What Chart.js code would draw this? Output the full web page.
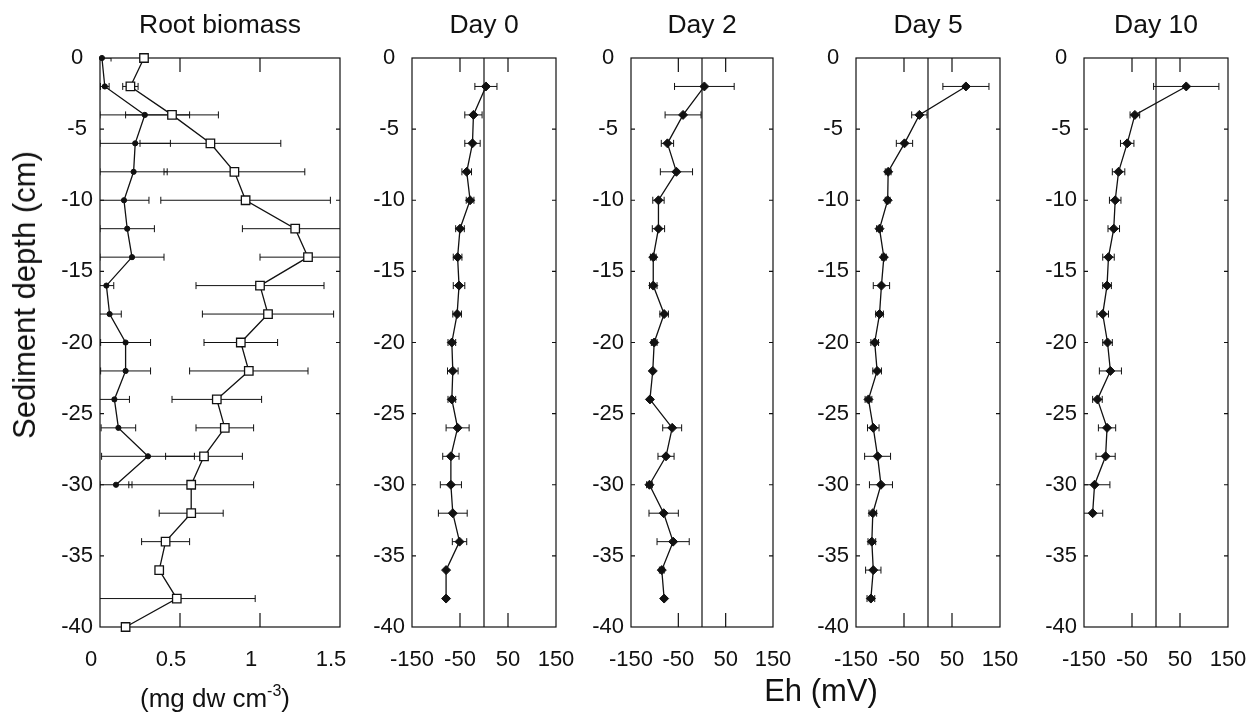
<!DOCTYPE html>
<html>
<head>
<meta charset="utf-8">
<script src="https://cdn.jsdelivr.net/npm/chart.js@4.4.1/dist/chart.umd.min.js"></script>
<style>
  body { margin: 0; background: #fff; }
  #wrap { position: relative; width: 1254px; height: 715px; overflow: hidden;
          font-family: "Liberation Sans", Arial, Helvetica, sans-serif; color: #111; }
  canvas { position: absolute; top: 0; }
  .lbl { position: absolute; white-space: nowrap; transform: translate(-50%, -50%); font-size: 26px; }
  .lbl sup { font-size: 16px; vertical-align: 11px; line-height: 0; }
</style>
</head>
<body>
<div id="wrap">
  <canvas id="bio" width="384" height="715" style="left:0px"></canvas>
  <canvas id="day0" width="255" height="715" style="left:345px"></canvas>
  <canvas id="day2" width="253" height="715" style="left:564px"></canvas>
  <canvas id="day5" width="255" height="715" style="left:789px"></canvas>
  <canvas id="day10" width="255" height="715" style="left:1017px"></canvas>
  <div class="lbl" style="left:25px; top:295px; font-size:31px; transform:translate(-50%,-50%) rotate(-90deg)">Sediment depth (cm)</div>
  <div class="lbl" style="left:215px; top:698px">(mg dw cm<sup>-3</sup>)</div>
  <div class="lbl" style="left:821px; top:691px; font-size:31px">Eh (mV)</div>
</div>
<script>
var depthTicks = [0, -5, -10, -15, -20, -25, -30, -35, -40];
var bioTicks = [0, 0.5, 1, 1.5];
var ehTicks = [-150, -50, 50, 150];

// root biomass, open squares and filled dots
var bioDepth = [0, -2, -4, -6, -8, -10, -12, -14, -16, -18, -20, -22, -24, -26, -28, -30, -32, -34, -36, -38, -40];
var bioOpen = [0.275, 0.19, 0.45, 0.69, 0.84, 0.91, 1.22, 1.30, 1.00, 1.05, 0.88, 0.93, 0.73, 0.78, 0.65, 0.57, 0.57, 0.41, 0.37, 0.48, 0.16];
var bioOpenErr = [0, 0.048, 0.29, 0.44, 0.44, 0.53, 0.33, 0.30, 0.40, 0.41, 0.23, 0.37, 0.28, 0.18, 0.24, 0.39, 0.20, 0.15, 0, 0.49, 0];
var bioDotDepth = [0, -2, -4, -6, -8, -10, -12, -14, -16, -18, -20, -22, -24, -26, -28, -30];
var bioDot = [0.012, 0.03, 0.28, 0.22, 0.21, 0.15, 0.17, 0.20, 0.04, 0.06, 0.16, 0.16, 0.09, 0.115, 0.30, 0.10];
var bioDotErr = [0.057, 0.027, 0.28, 0.22, 0.21, 0.156, 0.17, 0.20, 0.046, 0.073, 0.156, 0.156, 0.094, 0.108, 0.29, 0.10];

// Eh profiles
var ehDepth = [-2, -4, -6, -8, -10, -12, -14, -16, -18, -20, -22, -24, -26, -28, -30, -32, -34, -36, -38];
var ehDepth10 = [-2, -4, -6, -8, -10, -12, -14, -16, -18, -20, -22, -24, -26, -28, -30, -32];
var eh0 = [4, -22, -24, -36, -29, -50, -55, -52, -56, -67, -65, -67, -55, -69, -69, -65, -51, -79, -79];
var eh0Err = [23, 18, 16, 10, 8, 9, 9, 12, 9, 8, 11, 8, 24, 17, 22, 30, 15, 0, 0];
var eh2 = [5, -40, -73, -54, -92, -92, -103, -103, -80, -101, -104, -110, -63, -76, -111, -81, -61, -85, -80];
var eh2Err = [63, 38, 13, 34, 12, 13, 6, 8, 9, 6, 0, 0, 20, 17, 6, 31, 34, 5, 0];
var eh5 = [79, -18, -49, -83, -84, -101, -92, -97, -101, -111, -106, -124, -114, -105, -98, -115, -117, -114, -119];
var eh5Err = [48, 16, 17, 6, 5, 6, 5, 17, 8, 8, 9, 7, 12, 27, 24, 8, 8, 16, 8];
var eh10 = [63, -44, -60, -78, -85, -88, -99, -102, -111, -101, -95, -122, -102, -105, -128, -132];
var eh10Err = [68, 10, 14, 13, 12, 12, 12, 9, 12, 10, 23, 10, 18, 20, 32, 21];

var FONT = '"Liberation Sans", Arial, Helvetica, sans-serif';
var INK = '#111';

function points(xs, ys) {
    return xs.map(function(v, i) { return {x: v, y: ys[i]}; });
}

// box, inward ticks, zero line and horizontal error bars
var framePlugin = {
    id: 'frame',
    beforeDatasetsDraw: function(chart, args, opts) {
        var a = chart.chartArea, ctx = chart.ctx,
            sx = chart.scales.x, sy = chart.scales.y;

        ctx.save();
        ctx.strokeStyle = INK;
        ctx.lineWidth = 1.2;
        ctx.strokeRect(a.left, a.top, a.right - a.left, a.bottom - a.top);

        ctx.beginPath();
        sx.ticks.forEach(function(t) {
            var px = sx.getPixelForValue(t.value);
            if (px <= a.left + 1 || px >= a.right - 1) return;
            ctx.moveTo(px, a.top); ctx.lineTo(px, a.top + 14);
            ctx.moveTo(px, a.bottom); ctx.lineTo(px, a.bottom - 14);
        });
        sy.ticks.forEach(function(t) {
            var py = sy.getPixelForValue(t.value);
            if (py <= a.top + 1 || py >= a.bottom - 1) return;
            ctx.moveTo(a.left, py); ctx.lineTo(a.left + 4, py);
            ctx.moveTo(a.right, py); ctx.lineTo(a.right - 4, py);
        });
        if (opts.zero) {
            var zx = sx.getPixelForValue(0);
            ctx.moveTo(zx, a.top); ctx.lineTo(zx, a.bottom);
        }
        ctx.stroke();

        ctx.beginPath();
        ctx.rect(a.left, a.top, a.right - a.left, a.bottom - a.top);
        ctx.clip();
        ctx.lineWidth = 1;
        chart.data.datasets.forEach(function(ds) {
            if (!ds.xErr) return;
            ctx.beginPath();
            ds.data.forEach(function(p, i) {
                var e = ds.xErr[i];
                if (!e) return;
                var py = sy.getPixelForValue(p.y),
                    x1 = sx.getPixelForValue(p.x - e),
                    x2 = sx.getPixelForValue(p.x + e);
                ctx.moveTo(x1, py); ctx.lineTo(x2, py);
                ctx.moveTo(x1, py - 3.5); ctx.lineTo(x1, py + 3.5);
                ctx.moveTo(x2, py - 3.5); ctx.lineTo(x2, py + 3.5);
            });
            ctx.stroke();
        });
        ctx.restore();
    }
};

function makePanel(id, o) {
    return new Chart(document.getElementById(id), {
        type: 'scatter',
        data: { datasets: o.datasets },
        plugins: [framePlugin],
        options: {
            responsive: false,
            animation: false,
            devicePixelRatio: 1,
            layout: { padding: { left: 0, right: 44, top: 0, bottom: 0 } },
            plugins: {
                legend: { display: false },
                tooltip: { enabled: false },
                frame: { zero: o.zero },
                title: {
                    display: true,
                    text: o.title,
                    fullSize: false,
                    color: INK,
                    font: { family: FONT, size: 26.5, weight: 'normal', lineHeight: 1.2 },
                    padding: { top: 10, bottom: 16.2 }
                }
            },
            scales: {
                x: {
                    type: 'linear',
                    min: o.xMin,
                    max: o.xMax,
                    grid: { display: false, drawTicks: false },
                    border: { display: false },
                    afterBuildTicks: function(s) {
                        s.ticks = o.xTicks.map(function(v) { return {value: v}; });
                    },
                    afterFit: function(s) { s.height = 88; },
                    ticks: {
                        autoSkip: false, maxRotation: 0, minRotation: 0,
                        padding: 20,
                        labelOffset: o.labelOffset || 0,
                        color: INK,
                        font: { family: FONT, size: 22 },
                        callback: function(v) { return String(v); }
                    }
                },
                y: {
                    type: 'linear',
                    min: -40,
                    max: 0,
                    grid: { display: false, drawTicks: false },
                    border: { display: false },
                    afterBuildTicks: function(s) {
                        s.ticks = depthTicks.map(function(v) { return {value: v}; });
                    },
                    afterFit: function(s) { s.width = o.yWidth; },
                    ticks: {
                        padding: 7,
                        crossAlign: 'center',
                        color: INK,
                        font: { family: FONT, size: 22 },
                        callback: function(v) { return String(v); }
                    }
                }
            }
        }
    });
}

function ehSet(xs, ys, errs) {
    return {
        data: points(xs, ys),
        xErr: errs,
        showLine: true,
        clip: false,
        borderColor: INK,
        borderWidth: 1.3,
        pointStyle: 'rectRot',
        pointRadius: 4.5,
        pointBackgroundColor: INK,
        pointBorderColor: INK,
        pointBorderWidth: 1
    };
}

makePanel('bio', {
    title: 'Root biomass',
    xMin: 0, xMax: 1.5, xTicks: bioTicks,
    yWidth: 100, labelOffset: -9, zero: false,
    datasets: [
        {
            data: points(bioDot, bioDotDepth),
            xErr: bioDotErr,
            showLine: true, clip: false,
            borderColor: INK, borderWidth: 1.3,
            pointStyle: 'circle', pointRadius: 2.6,
            pointBackgroundColor: INK, pointBorderColor: INK, pointBorderWidth: 1
        },
        {
            data: points(bioOpen, bioDepth),
            xErr: bioOpenErr,
            showLine: true, clip: false,
            borderColor: INK, borderWidth: 1.3,
            pointStyle: 'rect', pointRadius: 6,
            pointBackgroundColor: '#fff', pointBorderColor: INK, pointBorderWidth: 1.3
        }
    ]
});

makePanel('day0', {
    title: 'Day 0', xMin: -150, xMax: 150, xTicks: ehTicks,
    yWidth: 67, zero: true,
    datasets: [ehSet(eh0, ehDepth, eh0Err)]
});

makePanel('day2', {
    title: 'Day 2', xMin: -150, xMax: 150, xTicks: ehTicks,
    yWidth: 67, zero: true,
    datasets: [ehSet(eh2, ehDepth, eh2Err)]
});

makePanel('day5', {
    title: 'Day 5', xMin: -150, xMax: 150, xTicks: ehTicks,
    yWidth: 67, zero: true,
    datasets: [ehSet(eh5, ehDepth, eh5Err)]
});

makePanel('day10', {
    title: 'Day 10', xMin: -150, xMax: 150, xTicks: ehTicks,
    yWidth: 67, zero: true,
    datasets: [ehSet(eh10, ehDepth10, eh10Err)]
});
</script>
</body>
</html>
